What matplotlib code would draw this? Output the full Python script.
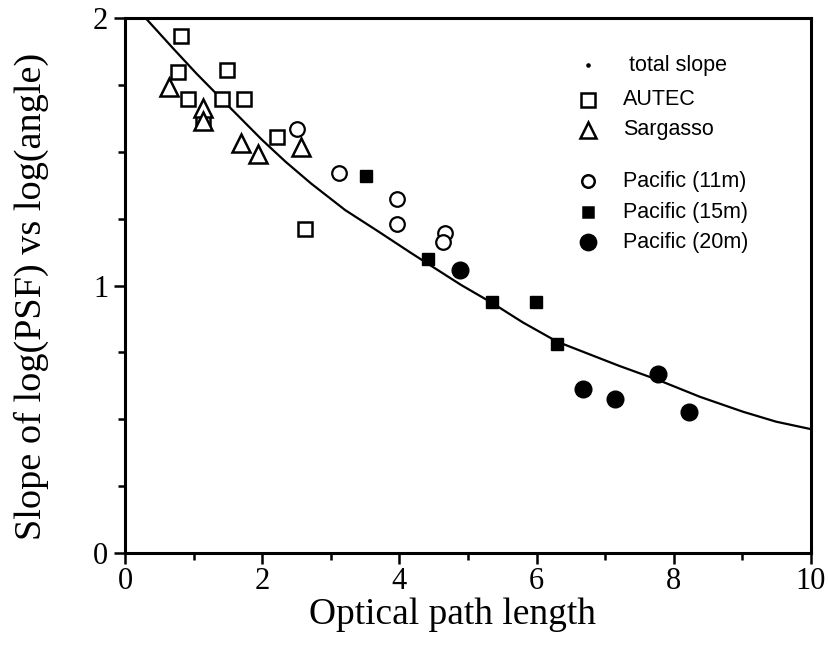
import numpy as np
import matplotlib.pyplot as plt
from matplotlib.ticker import MultipleLocator

# data
autec_x = [0.82, 0.77, 1.48, 0.92, 1.41, 1.73, 2.21, 2.63, 1.13]
autec_y = [1.934, 1.80, 1.806, 1.697, 1.697, 1.697, 1.556, 1.212, 1.61]

sarg_x = [0.64, 1.13, 1.13, 1.69, 1.94, 2.57]
sarg_y = [1.743, 1.662, 1.615, 1.532, 1.49, 1.519]

p11_x = [2.50, 3.12, 3.97, 3.97, 4.66, 4.64]
p11_y = [1.584, 1.422, 1.323, 1.23, 1.195, 1.164]

p15_x = [3.51, 4.42, 5.35, 5.99, 6.30]
p15_y = [1.41, 1.098, 0.937, 0.937, 0.78]

p20_x = [4.88, 6.68, 7.14, 7.77, 8.22]
p20_y = [1.058, 0.612, 0.576, 0.668, 0.526]

# total slope curve
curva_x = [0.3, 0.7, 1.04, 1.52, 2.0, 2.34, 2.71, 3.21, 3.70, 4.18, 4.90,
           5.35, 5.8, 6.3, 6.7, 7.2, 7.77, 8.38, 9.01, 9.49, 10.0]
curva_y = [2.0, 1.887, 1.793, 1.668, 1.544, 1.463, 1.382, 1.282, 1.201, 1.12, 1.002,
           0.935, 0.862, 0.79, 0.75, 0.70, 0.647, 0.584, 0.528, 0.491, 0.463]

fig = plt.figure(figsize=(8.29, 6.46), dpi=100)
ax = fig.add_axes([0.1508, 0.144, 0.8275, 0.828])

ax.plot(curva_x, curva_y, 'k-', lw=1.6)

ax.plot(autec_x, autec_y, 's', ms=10.5, mfc='white', mec='black', mew=1.8)
ax.plot(sarg_x, sarg_y, '^', ms=13, mfc='white', mec='black', mew=1.8)
ax.plot(p11_x, p11_y, 'o', ms=10.5, mfc='white', mec='black', mew=1.6)
ax.plot(p15_x, p15_y, 's', ms=8.5, color='black')
ax.plot(p20_x, p20_y, 'o', ms=12, color='black')

ax.set_xlim(0, 10)
ax.set_ylim(0, 2)

# legenda feita a mao para ter o espaco entre Sargasso e Pacific
legenda = [
    ('.', 3, 'black', 'black', 'total slope', 0.912),
    ('s', 9.5, 'white', 'black', 'AUTEC', 0.847),
    ('^', 11, 'white', 'black', 'Sargasso', 0.791),
    ('o', 9, 'white', 'black', 'Pacific (11m)', 0.695),
    ('s', 7.5, 'black', 'black', 'Pacific (15m)', 0.637),
    ('o', 11, 'black', 'black', 'Pacific (20m)', 0.581),
]
for mk, ms, fc, ec, txt, yy in legenda:
    ax.plot([0.675], [yy], mk, ms=ms, mfc=fc, mec=ec, mew=1.8,
            transform=ax.transAxes, clip_on=False)
    tx = 0.734 if txt == 'total slope' else 0.726
    ax.text(tx, yy, txt, transform=ax.transAxes, va='center', ha='left',
            fontsize=15.5, family='Liberation Sans')

serif = 'Liberation Serif'
ax.set_xlabel('Optical path length', fontsize=27, family=serif)
ax.xaxis.set_label_coords(0.478, -0.083)
ax.set_ylabel('Slope of log(PSF) vs log(angle)', fontsize=27.5, family=serif, labelpad=32)
ax.yaxis.label.set_y(0.48)

ax.xaxis.set_major_locator(MultipleLocator(2))
ax.xaxis.set_minor_locator(MultipleLocator(1))
ax.yaxis.set_major_locator(MultipleLocator(1))
ax.yaxis.set_minor_locator(MultipleLocator(0.25))
ax.tick_params(which='both', direction='out', top=False, right=False, width=1.8)
ax.tick_params(which='major', length=8, labelsize=22, pad=4)
ax.tick_params(axis='x', which='major', pad=2)
ax.tick_params(which='minor', length=5)
for lab in ax.get_xticklabels() + ax.get_yticklabels():
    lab.set_family(serif)

for s in ax.spines.values():
    s.set_linewidth(2.2)

fig.savefig('out.png', dpi=100)
